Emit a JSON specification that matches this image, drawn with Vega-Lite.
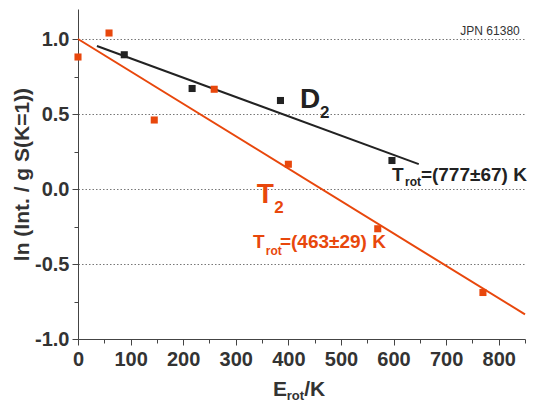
{
  "$schema": "https://vega.github.io/schema/vega-lite/v6.json",
  "width": 447,
  "height": 330,
  "autosize": {"type": "none"},
  "padding": {"left": 78, "top": 9, "right": 9, "bottom": 65},
  "background": "white",
  "config": {"view": {"stroke": null}, "font": "Liberation Sans"},
  "datasets": {
    "points": [
      {"E": 0, "lnI": 0.88, "series": "T2"},
      {"E": 59, "lnI": 1.04, "series": "T2"},
      {"E": 145, "lnI": 0.46, "series": "T2"},
      {"E": 259, "lnI": 0.665, "series": "T2"},
      {"E": 400, "lnI": 0.165, "series": "T2"},
      {"E": 570, "lnI": -0.265, "series": "T2"},
      {"E": 770, "lnI": -0.69, "series": "T2"},
      {"E": 88, "lnI": 0.895, "series": "D2"},
      {"E": 217, "lnI": 0.67, "series": "D2"},
      {"E": 385, "lnI": 0.59, "series": "D2"},
      {"E": 597, "lnI": 0.19, "series": "D2"}
    ],
    "fits": [
      {"E": 0, "lnI": 1.0, "series": "T2"},
      {"E": 850, "lnI": -0.836, "series": "T2"},
      {"E": 36, "lnI": 0.953, "series": "D2"},
      {"E": 648, "lnI": 0.166, "series": "D2"}
    ],
    "bigLabels": [
      {"E": 422, "lnI": 0.54, "text": "D", "series": "D2"},
      {"E": 340, "lnI": -0.093, "text": "T", "series": "T2"}
    ],
    "bigSubs": [
      {"E": 460, "lnI": 0.473, "text": "2", "series": "D2"},
      {"E": 373, "lnI": -0.16, "text": "2", "series": "T2"}
    ],
    "fitLabels": [
      {"E": 597, "lnI": 0.053, "text": "T", "series": "D2"},
      {"E": 652, "lnI": 0.053, "text": "=(777±67) K", "series": "D2"},
      {"E": 333, "lnI": -0.393, "text": "T", "series": "T2"},
      {"E": 384, "lnI": -0.393, "text": "=(463±29) K", "series": "T2"}
    ],
    "fitSubs": [
      {"E": 622, "lnI": 0.02, "text": "rot", "series": "D2"},
      {"E": 357, "lnI": -0.44, "text": "rot", "series": "T2"}
    ],
    "axisTitle": [
      {"E": 371, "lnI": -1.38, "text": "E", "series": "axis"},
      {"E": 430, "lnI": -1.38, "text": "/K", "series": "axis"}
    ],
    "axisTitleSub": [
      {"E": 397, "lnI": -1.407, "text": "rot", "series": "axis"}
    ],
    "note": [
      {"E": 840, "lnI": 1.027, "text": "JPN 61380", "series": "axis"}
    ]
  },
  "encoding": {
    "x": {
      "field": "E",
      "type": "quantitative",
      "scale": {"domain": [0, 850], "nice": false, "zero": false},
      "axis": {
        "title": null,
        "values": [0, 50, 100, 150, 200, 250, 300, 350, 400, 450, 500, 550, 600, 650, 700, 750, 800, 850],
        "labelExpr": "datum.value % 100 === 0 ? datum.label : ''",
        "format": "d",
        "grid": false,
        "domainColor": "#444444",
        "tickColor": "#444444",
        "tickSize": {"condition": {"test": "datum.value % 100 === 0", "value": 6}, "value": 4},
        "labelFontSize": 20,
        "labelFontWeight": "bold",
        "labelColor": "#333333",
        "labelPadding": 4,
        "labelFlush": false,
        "labelOverlap": false,
        "labelBound": false
      }
    },
    "y": {
      "field": "lnI",
      "type": "quantitative",
      "scale": {"domain": [-1, 1.2], "nice": false, "zero": false},
      "axis": {
        "title": "ln (Int. / g S(K=1))",
        "titleFontSize": 21,
        "titleFontWeight": "bold",
        "titleColor": "#333333",
        "titlePadding": 2,
        "values": [-1, -0.75, -0.5, -0.25, 0, 0.25, 0.5, 0.75, 1],
        "labelExpr": "abs(datum.value*4) % 2 === 0 ? replace(format(datum.value, '.1f'), '\u2212', '-') : ''",
        "grid": true,
        "gridColor": "#777777",
        "gridDash": [1.5, 2],
        "gridWidth": 1,
        "gridOpacity": {"condition": {"test": "abs(datum.value*4) % 2 === 0 && datum.value > -1", "value": 1}, "value": 0},
        "domainColor": "#444444",
        "tickColor": "#444444",
        "tickSize": {"condition": {"test": "abs(datum.value*4) % 2 === 0", "value": 6}, "value": 4},
        "labelFontSize": 20,
        "labelFontWeight": "bold",
        "labelColor": "#333333",
        "labelPadding": 3,
        "labelOverlap": false,
        "labelBound": false,
        "labelFlush": false
      }
    },
    "color": {
      "field": "series",
      "type": "nominal",
      "scale": {"domain": ["D2", "T2", "axis"], "range": ["#222222", "#e8470c", "#333333"]},
      "legend": null
    }
  },
  "layer": [
    {
      "data": {"name": "fits"},
      "mark": {"type": "line", "strokeWidth": 2},
      "encoding": {"detail": {"field": "series"}}
    },
    {
      "data": {"name": "points"},
      "mark": {"type": "square", "size": 50, "filled": true, "opacity": 1}
    },
    {
      "data": {"name": "bigLabels"},
      "mark": {"type": "text", "align": "left", "baseline": "alphabetic", "fontSize": 28, "fontWeight": "bold", "font": "Liberation Sans"},
      "encoding": {"text": {"field": "text"}}
    },
    {
      "data": {"name": "bigSubs"},
      "mark": {"type": "text", "align": "left", "baseline": "alphabetic", "fontSize": 17, "fontWeight": "bold", "font": "Liberation Sans"},
      "encoding": {"text": {"field": "text"}}
    },
    {
      "data": {"name": "fitLabels"},
      "mark": {"type": "text", "align": "left", "baseline": "alphabetic", "fontSize": 19, "fontWeight": "bold", "font": "Liberation Sans"},
      "encoding": {"text": {"field": "text"}}
    },
    {
      "data": {"name": "fitSubs"},
      "mark": {"type": "text", "align": "left", "baseline": "alphabetic", "fontSize": 12, "fontWeight": "bold", "font": "Liberation Sans"},
      "encoding": {"text": {"field": "text"}}
    },
    {
      "data": {"name": "axisTitle"},
      "mark": {"type": "text", "align": "left", "baseline": "alphabetic", "fontSize": 21, "fontWeight": "bold", "font": "Liberation Sans"},
      "encoding": {"text": {"field": "text"}}
    },
    {
      "data": {"name": "axisTitleSub"},
      "mark": {"type": "text", "align": "left", "baseline": "alphabetic", "fontSize": 13, "fontWeight": "bold", "font": "Liberation Sans"},
      "encoding": {"text": {"field": "text"}}
    },
    {
      "data": {"name": "note"},
      "mark": {"type": "text", "align": "right", "baseline": "alphabetic", "fontSize": 12, "fontWeight": "normal", "font": "Liberation Sans"},
      "encoding": {"text": {"field": "text"}}
    }
  ]
}
